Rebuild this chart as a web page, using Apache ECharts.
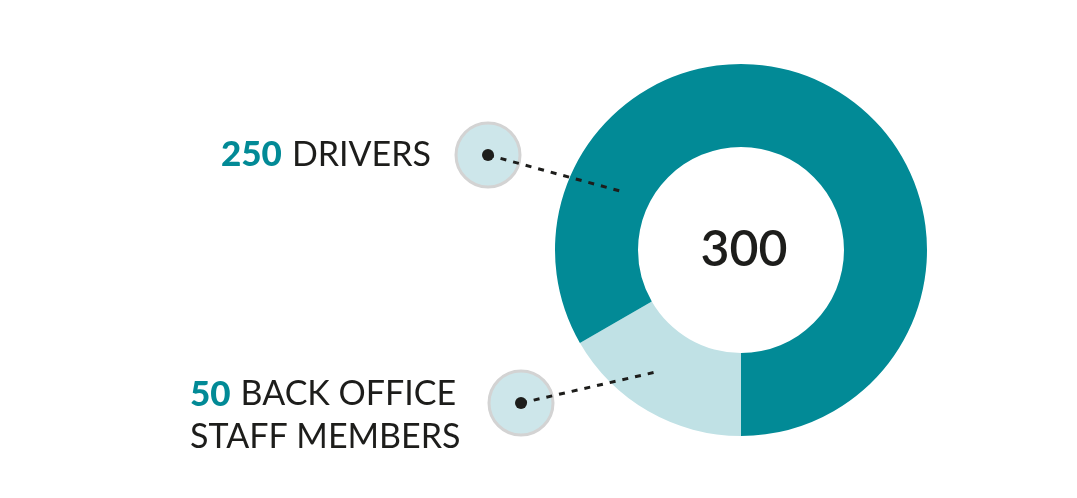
<!DOCTYPE html>
<html>
<head>
<meta charset="utf-8">
<script src="https://cdn.jsdelivr.net/npm/echarts@6/dist/echarts.min.js"></script>
<style>
  html, body { margin: 0; padding: 0; background: #fff; }
  #main { width: 1077px; height: 498px; }
</style>
</head>
<body>
<div id="main"></div>
<script>
// data
const names = ['BACK OFFICE STAFF MEMBERS', 'DRIVERS']
const values = [50, 250]
const colors = ['#c0e1e5', '#028a96']
const total = values.reduce((a, b) => a + b, 0)

const chart = echarts.init(document.getElementById('main'))

// callout markers (circle + dot + dotted leader)
function callout(cx, cy, ex, ey) {
  return [
    {
      type: 'circle',
      shape: { cx: cx, cy: cy, r: 32 },
      style: { fill: '#cde6ea', stroke: '#d3d3d3', lineWidth: 3 },
      z: 10
    },
    {
      type: 'line',
      shape: { x1: cx, y1: cy, x2: ex, y2: ey },
      style: { stroke: '#1d1d1b', lineWidth: 3, lineDash: [6, 7] },
      z: 12
    },
    {
      type: 'circle',
      shape: { cx: cx, cy: cy, r: 6 },
      style: { fill: '#1d1d1b' },
      z: 13
    }
  ]
}

const rich = {
  n: { font: '900 35px Lato', fill: '#028a96', padding: [0, 10, 0, 0], lineHeight: 43 },
  t: { font: '34px Lato', fill: '#1d1d1b', lineHeight: 43 }
}

const option = {
  animation: false,
  series: [
    {
      type: 'pie',
      center: [741, 250],
      radius: [103, 186],
      startAngle: 270,
      clockwise: true,
      silent: true,
      label: { show: false },
      labelLine: { show: false },
      data: names.map((n, i) => ({ name: n, value: values[i], itemStyle: { color: colors[i] } }))
    }
  ],
  graphic: [
    ...callout(488, 155, 620, 191),
    ...callout(521, 403, 656, 372),
    {
      type: 'text',
      x: 744, y: 250,
      style: {
        text: String(total),
        font: '600 50px Lato',
        fill: '#1d1d1b',
        align: 'center',
        verticalAlign: 'middle'
      },
      z: 20
    },
    {
      type: 'text',
      x: 431, y: 155,
      style: {
        text: '{n|' + values[1] + '}{t|' + names[1] + '}',
        align: 'right',
        verticalAlign: 'middle',
        rich: rich
      },
      z: 20
    },
    {
      type: 'text',
      x: 190, y: 416,
      style: {
        text: '{n|' + values[0] + '}{t|BACK OFFICE}\n{t|STAFF MEMBERS}',
        align: 'left',
        verticalAlign: 'middle',
        lineHeight: 43,
        rich: rich
      },
      z: 20
    }
  ]
}

chart.setOption(option)
</script>
</body>
</html>
